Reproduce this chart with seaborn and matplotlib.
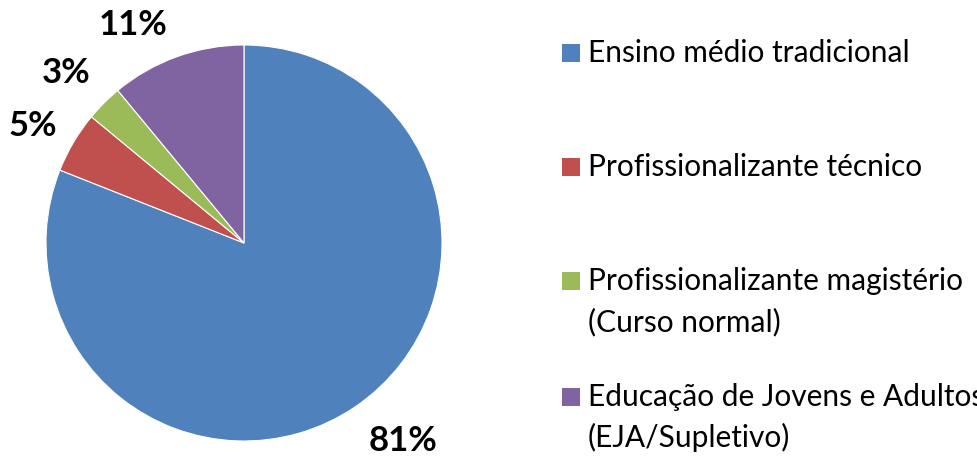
import matplotlib
matplotlib.use("Agg")
import matplotlib.pyplot as plt
from matplotlib.patches import Rectangle
import seaborn as sns

sns.set_theme(style="white")
plt.rcParams['font.family'] = ['Lato', 'DejaVu Sans']

categories = ["Ensino médio tradicional",
              "Profissionalizante técnico",
              "Profissionalizante magistério\n(Curso normal)",
              "Educação de Jovens e Adultos\n(EJA/Supletivo)"]
values = [81, 5, 3, 11]
labels = ["81%", "5%", "3%", "11%"]
colors = ["#4F81BD", "#C0504D", "#9BBB59", "#8064A2"]

W, H = 978, 457
fig = plt.figure(figsize=(W / 100, H / 100), dpi=100)
cx, cy, r = 244, 243, 198
ax = fig.add_axes([(cx - r) / W, (H - cy - r) / H, 2 * r / W, 2 * r / H])
ax.pie(values, colors=colors, startangle=90, counterclock=False,
       wedgeprops=dict(edgecolor="white", linewidth=0.8))
ax.set_xlim(-1, 1)
ax.set_ylim(-1, 1)
ax.set_aspect("auto")
ax.axis("off")

label_pos = [(403, 441), (33, 126), (66, 73), (133, 25)]
for lab, (px, py) in zip(labels, label_pos):
    fig.text(px / W, 1 - py / H, lab, ha="center", va="center",
             fontsize=25, fontweight="bold", color="black")

baselines = [62, 176, 290, 406]
for cat, col, bl in zip(categories, colors, baselines):
    fig.add_artist(Rectangle((562 / W, 1 - (bl) / H), 18 / W, 18 / H,
                             transform=fig.transFigure, facecolor=col,
                             edgecolor="none"))
    for k, line in enumerate(cat.split("\n")):
        fig.text(588 / W, 1 - (bl + 41 * k) / H, line, ha="left",
                 va="baseline", fontsize=21.5, color="black")

fig.savefig("out.png", dpi=100)
